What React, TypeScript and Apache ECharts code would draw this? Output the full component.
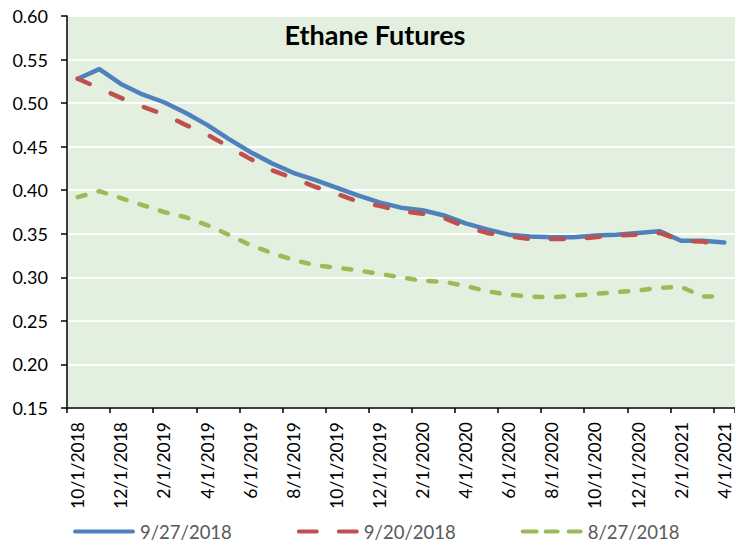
import React, { useEffect, useRef } from "react";
import * as echarts from "echarts";

const categories = [
  "10/1/2018", "11/1/2018", "12/1/2018", "1/1/2019", "2/1/2019", "3/1/2019", "4/1/2019", "5/1/2019",
  "6/1/2019", "7/1/2019", "8/1/2019", "9/1/2019", "10/1/2019", "11/1/2019", "12/1/2019", "1/1/2020",
  "2/1/2020", "3/1/2020", "4/1/2020", "5/1/2020", "6/1/2020", "7/1/2020", "8/1/2020", "9/1/2020",
  "10/1/2020", "11/1/2020", "12/1/2020", "1/1/2021", "2/1/2021", "3/1/2021", "4/1/2021",
];

const s0927 = [
  0.528, 0.539, 0.522, 0.510, 0.501, 0.489, 0.475, 0.459, 0.444, 0.431, 0.420, 0.412, 0.403, 0.394, 0.386, 0.380,
  0.377, 0.371, 0.362, 0.355, 0.349, 0.347, 0.346, 0.346, 0.348, 0.349, 0.351, 0.353, 0.342, 0.342, 0.340,
];
const s0920 = [
  0.528, 0.517, 0.506, 0.496, 0.487, 0.475, 0.464, 0.450, 0.436, 0.423, 0.414, 0.404, 0.396, 0.387, 0.382, 0.376,
  0.373, 0.368, 0.358, 0.351, 0.347, 0.344, 0.344, 0.344, 0.346, 0.348, 0.349, 0.351, 0.342, 0.341, 0.337,
];
const s0827 = [
  0.392, 0.399, 0.391, 0.383, 0.375, 0.369, 0.360, 0.349, 0.337, 0.328, 0.320, 0.314, 0.311, 0.308, 0.304, 0.300,
  0.296, 0.295, 0.290, 0.284, 0.280, 0.278, 0.277, 0.279, 0.281, 0.283, 0.285, 0.288, 0.289, 0.278, 0.278,
];

const seriesNames = ["9/27/2018", "9/20/2018", "8/27/2018"];
const titleText = "Ethane Futures";

// rounded bar segment from x0 to x1 in a 4-unit-high frame
function seg(x0: number, x1: number) {
  return `M${x0 + 2},0 L${x1 - 2},0 A2,2 0 0 1 ${x1 - 2},4 L${x0 + 2},4 A2,2 0 0 1 ${x0 + 2},0 Z`;
}
const iconSolid = "path://" + seg(0, 62);
const iconDash = "path://" + seg(0, 22) + " " + seg(40, 62);
const iconDot = "path://" + seg(0, 18) + " " + seg(23, 39) + " " + seg(46, 62);

export default function App() {
  const ref = useRef<HTMLDivElement>(null);
  useEffect(() => {
    if (!ref.current) return;
    const chart = echarts.init(ref.current, undefined, { renderer: "svg" });
    const font = "Lato, 'Open Sans', sans-serif";
    chart.setOption({
      animation: false,
      backgroundColor: "#ffffff",
      title: {
        text: titleText,
        left: 375,
        textAlign: "center",
        top: 21,
        padding: 0,
        textStyle: { fontFamily: font, fontSize: 27, fontWeight: "bold", color: "#000000" },
      },
      legend: {
        data: [
          { name: seriesNames[0], icon: iconSolid, itemStyle: { color: "#4F81BD" } },
          { name: seriesNames[1], icon: iconDash, itemStyle: { color: "#C0504D" } },
          { name: seriesNames[2], icon: iconDot, itemStyle: { color: "#9BBB59" } },
        ],
        left: 73,
        top: 522,
        itemWidth: 62,
        itemHeight: 4.5,
        itemGap: 65,
        padding: 0,
        textStyle: { fontFamily: font, fontSize: 18.5, color: "#595959" },
      },
      grid: {
        left: 67,
        right: 0,
        top: 16,
        bottom: 135,
        show: true,
        backgroundColor: "#E3F0E0",
        borderWidth: 0,
      },
      xAxis: {
        type: "category",
        data: categories,
        boundaryGap: true,
        axisLine: { show: true, lineStyle: { color: "#000000", width: 1.5 } },
        axisTick: { show: true, interval: 1, length: 5, lineStyle: { color: "#000000", width: 1.5 } },
        axisLabel: {
          interval: 1,
          rotate: 90,
          margin: 14,
          fontFamily: font,
          fontSize: 17.5,
          color: "#000000",
        },
        splitLine: { show: false },
      },
      yAxis: {
        type: "value",
        min: 0.15,
        max: 0.6,
        interval: 0.05,
        axisLine: { show: true, lineStyle: { color: "#000000", width: 1.5 } },
        axisTick: { show: true, length: 6, lineStyle: { color: "#000000", width: 1.5 } },
        axisLabel: {
          margin: 19,
          fontFamily: font,
          fontSize: 18,
          color: "#000000",
          formatter: (v: number) => v.toFixed(2),
        },
        splitLine: { show: true, lineStyle: { color: "#ffffff", width: 2 } },
      },
      series: [
        {
          name: seriesNames[0],
          type: "line",
          data: s0927,
          symbol: "none",
          showSymbol: false,
          lineStyle: { color: "#4F81BD", width: 4.5, cap: "round", join: "round" },
          itemStyle: { color: "#4F81BD" },
        },
        {
          name: seriesNames[1],
          type: "line",
          data: s0920,
          symbol: "none",
          showSymbol: false,
          lineStyle: { color: "#C0504D", width: 4.5, type: [13, 23], cap: "round", join: "round" },
          itemStyle: { color: "#C0504D" },
        },
        {
          name: seriesNames[2],
          type: "line",
          data: s0827,
          symbol: "none",
          showSymbol: false,
          lineStyle: { color: "#9BBB59", width: 4.5, type: [8, 13.5], cap: "round", join: "round" },
          itemStyle: { color: "#9BBB59" },
        },
      ],
    });
    return () => chart.dispose();
  }, []);
  return (
    <div
      ref={ref}
      style={{ position: "fixed", left: 0, top: 0, width: 735, height: 543 }}
    />
  );
}
